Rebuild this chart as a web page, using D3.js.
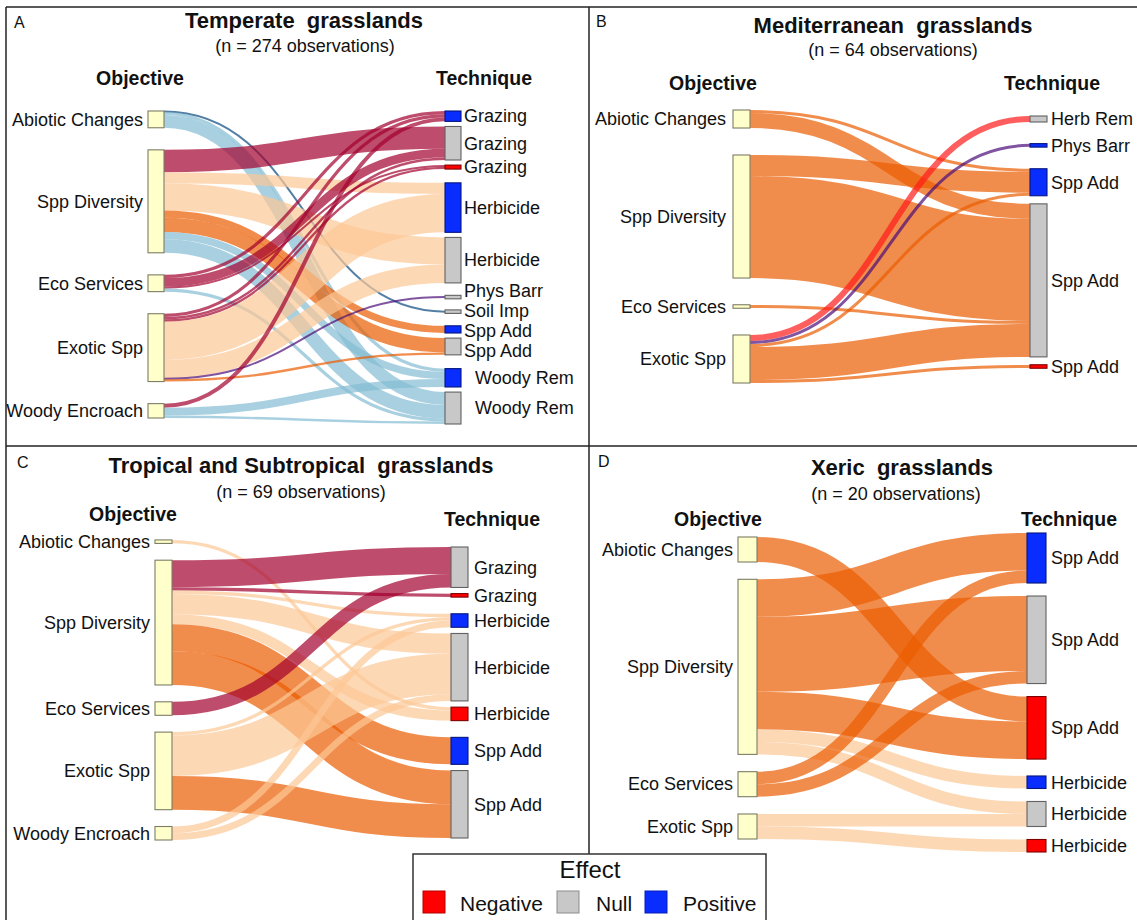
<!DOCTYPE html>
<html>
<head>
<meta charset="utf-8">
<script src="https://cdn.jsdelivr.net/npm/d3@7"></script>
<style>
  body { margin: 0; background: #fff; }
  svg text { font-family: "Liberation Sans", Arial, Helvetica, sans-serif; white-space: pre; }
</style>
</head>
<body>
<svg id="fig" width="1137" height="920"></svg>
<script>
// ---------- Data: objectives (left), technique x effect (right), flows ----------
const effects = ["Negative", "Null", "Positive"];

const temperateObjectives = ["Abiotic Changes", "Spp Diversity", "Eco Services", "Exotic Spp", "Woody Encroach"];
const temperateTechniques = [
  ["Grazing", "Positive"], ["Grazing", "Null"], ["Grazing", "Negative"],
  ["Herbicide", "Positive"], ["Herbicide", "Null"],
  ["Phys Barr", "Null"], ["Soil Imp", "Null"],
  ["Spp Add", "Positive"], ["Spp Add", "Null"],
  ["Woody Rem", "Positive"], ["Woody Rem", "Null"]
];
const temperateFlows = [
  ["Abiotic Changes", "Soil Imp", "Null", 1],
  ["Abiotic Changes", "Woody Rem", "Positive", 4],
  ["Abiotic Changes", "Woody Rem", "Null", 16],
  ["Spp Diversity", "Grazing", "Null", 28],
  ["Spp Diversity", "Herbicide", "Positive", 14],
  ["Spp Diversity", "Herbicide", "Null", 34],
  ["Spp Diversity", "Spp Add", "Positive", 9],
  ["Spp Diversity", "Spp Add", "Null", 18],
  ["Spp Diversity", "Woody Rem", "Positive", 9],
  ["Spp Diversity", "Woody Rem", "Null", 17],
  ["Eco Services", "Grazing", "Positive", 4],
  ["Eco Services", "Grazing", "Null", 11],
  ["Eco Services", "Grazing", "Negative", 2],
  ["Eco Services", "Woody Rem", "Null", 4],
  ["Exotic Spp", "Grazing", "Positive", 4],
  ["Exotic Spp", "Grazing", "Null", 3],
  ["Exotic Spp", "Grazing", "Negative", 3],
  ["Exotic Spp", "Herbicide", "Positive", 48],
  ["Exotic Spp", "Herbicide", "Null", 23],
  ["Exotic Spp", "Phys Barr", "Null", 1],
  ["Exotic Spp", "Spp Add", "Null", 3],
  ["Woody Encroach", "Grazing", "Positive", 5],
  ["Woody Encroach", "Woody Rem", "Positive", 10],
  ["Woody Encroach", "Woody Rem", "Null", 3]
];

const mediterraneanObjectives = ["Abiotic Changes", "Spp Diversity", "Eco Services", "Exotic Spp"];
const mediterraneanTechniques = [
  ["Herb Rem", "Null"], ["Phys Barr", "Positive"],
  ["Spp Add", "Positive"], ["Spp Add", "Null"], ["Spp Add", "Negative"]
];
const mediterraneanFlows = [
  ["Abiotic Changes", "Spp Add", "Positive", 1],
  ["Abiotic Changes", "Spp Add", "Null", 5],
  ["Spp Diversity", "Spp Add", "Positive", 7],
  ["Spp Diversity", "Spp Add", "Null", 34],
  ["Eco Services", "Spp Add", "Null", 1],
  ["Exotic Spp", "Herb Rem", "Null", 2],
  ["Exotic Spp", "Phys Barr", "Positive", 1],
  ["Exotic Spp", "Spp Add", "Positive", 1],
  ["Exotic Spp", "Spp Add", "Null", 11],
  ["Exotic Spp", "Spp Add", "Negative", 1]
];

const tropicalObjectives = ["Abiotic Changes", "Spp Diversity", "Eco Services", "Exotic Spp", "Woody Encroach"];
const tropicalTechniques = [
  ["Grazing", "Null"], ["Grazing", "Negative"],
  ["Herbicide", "Positive"], ["Herbicide", "Null"], ["Herbicide", "Negative"],
  ["Spp Add", "Positive"], ["Spp Add", "Null"]
];
const tropicalFlows = [
  ["Abiotic Changes", "Herbicide", "Negative", 1],
  ["Spp Diversity", "Grazing", "Null", 8],
  ["Spp Diversity", "Grazing", "Negative", 1],
  ["Spp Diversity", "Herbicide", "Positive", 1],
  ["Spp Diversity", "Herbicide", "Null", 6],
  ["Spp Diversity", "Herbicide", "Negative", 3],
  ["Spp Diversity", "Spp Add", "Positive", 8],
  ["Spp Diversity", "Spp Add", "Null", 10],
  ["Eco Services", "Grazing", "Null", 4],
  ["Exotic Spp", "Herbicide", "Positive", 1],
  ["Exotic Spp", "Herbicide", "Null", 12],
  ["Exotic Spp", "Spp Add", "Null", 10],
  ["Woody Encroach", "Herbicide", "Positive", 2],
  ["Woody Encroach", "Herbicide", "Null", 2]
];

const xericObjectives = ["Abiotic Changes", "Spp Diversity", "Eco Services", "Exotic Spp"];
const xericTechniques = [
  ["Spp Add", "Positive"], ["Spp Add", "Null"], ["Spp Add", "Negative"],
  ["Herbicide", "Positive"], ["Herbicide", "Null"], ["Herbicide", "Negative"]
];
const xericFlows = [
  ["Abiotic Changes", "Spp Add", "Negative", 2],
  ["Spp Diversity", "Spp Add", "Positive", 3],
  ["Spp Diversity", "Spp Add", "Null", 6],
  ["Spp Diversity", "Spp Add", "Negative", 3],
  ["Spp Diversity", "Herbicide", "Positive", 1],
  ["Spp Diversity", "Herbicide", "Null", 1],
  ["Eco Services", "Spp Add", "Positive", 1],
  ["Eco Services", "Spp Add", "Null", 1],
  ["Exotic Spp", "Herbicide", "Null", 1],
  ["Exotic Spp", "Herbicide", "Negative", 1]
];

const panelLetters = ["A", "B", "C", "D"];
const panelTitles = ["Temperate  grasslands", "Mediterranean  grasslands",
                     "Tropical and Subtropical  grasslands", "Xeric  grasslands"];

// ---------- Styles ----------
const objectiveFill = "#ffffcc";
const effectFill = { Negative: "#ff0000", Null: "#c8c8c8", Positive: "#0a2dff" };
const techniqueColor = {
  "Grazing": "#a3002d", "Herbicide": "#fcc795", "Spp Add": "#eb5c00",
  "Woody Rem": "#83bcd3", "Soil Imp": "#0a477e", "Phys Barr": "#4a0c78", "Herb Rem": "#ff1a1a"
};
const linkOpacity = 0.7;
const labelSize = 18;
const labelMinSep = 20;

// ---------- Panel geometry ----------
// pad: gap between nodes of the same technique; groupRatio: how much wider the
// gap is between two different techniques (or two objectives).
const panels = [
  { objectives: temperateObjectives, techniques: temperateTechniques, flows: temperateFlows,
    xLeft: 148, xRight: 445, nodeW: 16, leftExt: [111, 418], rightExt: [111, 424], pad: 5.1, groupRatio: 2.7,
    gapL: 5, gapR: 3, indent: { "Woody Rem": 11 },
    letter: [14, 28], title: [304, 28], sub: [305, 52], obj: [140, 85], tech: [484, 85] },
  { objectives: mediterraneanObjectives, techniques: mediterraneanTechniques, flows: mediterraneanFlows,
    xLeft: 733, xRight: 1030, nodeW: 17, leftExt: [110, 383], rightExt: [116, 368], pad: 8.1, groupRatio: 2.7,
    gapL: 7, gapR: 4, indent: {},
    letter: [596, 27], title: [893, 33], sub: [893, 56], obj: [713, 90], tech: [1052, 90] },
  { objectives: tropicalObjectives, techniques: tropicalTechniques, flows: tropicalFlows,
    xLeft: 155, xRight: 451, nodeW: 17, leftExt: [540, 840], rightExt: [547, 838], pad: 6.2, groupRatio: 2.7,
    gapL: 5, gapR: 6, indent: {},
    letter: [17, 468], title: [301, 473], sub: [301, 498], obj: [133, 521], tech: [492, 526] },
  { objectives: xericObjectives, techniques: xericTechniques, flows: xericFlows,
    xLeft: 738, xRight: 1027, nodeW: 19, leftExt: [537, 839], rightExt: [533, 852], pad: 13, groupRatio: 1.3,
    gapL: 5, gapR: 5, indent: {},
    letter: [598, 467], title: [902, 475], sub: [896, 500], obj: [718, 526], tech: [1069, 526] }
];

const svg = d3.select("#fig");
svg.append("rect").attr("width", 1137).attr("height", 920).attr("fill", "#fff");

// ---------- Two-column flow layout ----------
function layout(p) {
  const left = p.objectives.map(name => ({ id: name, group: name, label: name, fill: objectiveFill, out: [], inn: [] }));
  const right = p.techniques.map(([t, e]) => ({ id: t + "|" + e, group: t, label: t, fill: effectFill[e], out: [], inn: [] }));
  const byId = new Map([...left, ...right].map(n => [n.id, n]));
  const links = p.flows.map(([s, t, e, v]) => {
    const l = { source: byId.get(s), target: byId.get(t + "|" + e), tech: t, value: v };
    l.source.out.push(l);
    l.target.inn.push(l);
    return l;
  });
  const nodes = [...left, ...right];
  nodes.forEach(n => n.value = Math.max(d3.sum(n.out, l => l.value), d3.sum(n.inn, l => l.value)));

  const cols = [left, right];
  const ext = [p.leftExt, p.rightExt];
  // relative width of each gap in a column
  const gapWeights = cols.map(c => c.slice(1).map((n, i) => n.group === c[i].group ? 1 : p.groupRatio));
  const ky = d3.min(cols, (c, i) =>
    (ext[i][1] - ext[i][0] - p.pad * d3.sum(gapWeights[i])) / d3.sum(c, n => n.value));
  const h = d3.scaleLinear().domain([0, 1]).range([0, ky]);
  const x = d3.scaleLinear().domain([0, 1]).range([p.xLeft, p.xRight]);

  cols.forEach((c, i) => {
    const slack = ext[i][1] - ext[i][0] - d3.sum(c, n => h(n.value));
    const unit = slack / d3.sum(gapWeights[i]);
    let y = ext[i][0];
    c.forEach((n, j) => {
      if (j > 0) y += unit * gapWeights[i][j - 1];
      n.col = i;
      n.x0 = x(i); n.x1 = x(i) + p.nodeW;
      n.y0 = y; n.y1 = y + h(n.value);
      n.ly = (n.y0 + n.y1) / 2;
      y = n.y1;
    });
    spreadLabels(c);
  });

  links.forEach(l => l.width = h(l.value));
  nodes.forEach(n => {
    n.out.sort((a, b) => a.target.y0 - b.target.y0);
    n.inn.sort((a, b) => a.source.y0 - b.source.y0);
    let sy = n.y0;
    n.out.forEach(l => { l.ys = sy + l.width / 2; sy += l.width; });
    let ty = n.y0;
    n.inn.forEach(l => { l.yt = ty + l.width / 2; ty += l.width; });
  });
  return { nodes, links, total: d3.sum(left, n => n.value) };
}

// Nudge labels of crowded small nodes apart so they stay legible.
function spreadLabels(col) {
  for (let it = 0; it < 200; it++) {
    let moved = false;
    for (let i = 1; i < col.length; i++) {
      const d = col[i].ly - col[i - 1].ly;
      if (d < labelMinSep - 0.01) {
        const m = (labelMinSep - d) / 2;
        col[i - 1].ly -= m;
        col[i].ly += m;
        moved = true;
      }
    }
    if (!moved) break;
  }
}

const linkPath = d3.linkHorizontal()
  .source(l => [l.source.x1, l.ys])
  .target(l => [l.target.x0, l.yt]);

panels.forEach((p, pi) => {
  const { nodes, links, total } = layout(p);
  const g = svg.append("g");

  g.append("g").selectAll("path").data(links).join("path")
    .attr("d", linkPath)
    .attr("fill", "none")
    .attr("stroke", l => techniqueColor[l.tech])
    .attr("stroke-opacity", linkOpacity)
    .attr("stroke-width", l => Math.max(2, l.width));

  const node = g.append("g").selectAll("g").data(nodes).join("g");
  node.append("rect")
    .attr("x", n => n.x0)
    .attr("y", n => Math.min(n.y0, (n.y0 + n.y1) / 2 - 1.75))
    .attr("width", p.nodeW)
    .attr("height", n => Math.max(3.5, n.y1 - n.y0))
    .attr("fill", n => n.fill)
    .attr("stroke", n => d3.rgb(n.fill).darker(2))
    .attr("stroke-width", 1.1);
  node.append("text")
    .attr("x", n => n.col === 0 ? n.x0 - p.gapL : n.x1 + p.gapR + (p.indent[n.label] || 0))
    .attr("y", n => n.ly)
    .attr("dy", "0.35em")
    .attr("text-anchor", n => n.col === 0 ? "end" : "start")
    .attr("font-size", labelSize)
    .attr("fill", "#111")
    .text(n => n.label);

  g.append("text").attr("x", p.letter[0]).attr("y", p.letter[1])
    .attr("font-size", 16).attr("fill", "#111").text(panelLetters[pi]);
  g.append("text").attr("x", p.title[0]).attr("y", p.title[1]).attr("text-anchor", "middle")
    .attr("font-size", 22).attr("font-weight", "bold").attr("fill", "#111").text(panelTitles[pi]);
  g.append("text").attr("x", p.sub[0]).attr("y", p.sub[1]).attr("text-anchor", "middle")
    .attr("font-size", 18).attr("fill", "#111").text(`(n = ${total} observations)`);
  g.append("text").attr("x", p.obj[0]).attr("y", p.obj[1]).attr("text-anchor", "middle")
    .attr("font-size", 19.5).attr("font-weight", "bold").attr("fill", "#111").text("Objective");
  g.append("text").attr("x", p.tech[0]).attr("y", p.tech[1]).attr("text-anchor", "middle")
    .attr("font-size", 19.5).attr("font-weight", "bold").attr("fill", "#111").text("Technique");
});

// ---------- Panel frame ----------
const frame = svg.append("g").attr("stroke", "#222").attr("stroke-width", 1.5);
frame.append("line").attr("x1", 6).attr("y1", 7).attr("x2", 1137).attr("y2", 7);
frame.append("line").attr("x1", 6).attr("y1", 7).attr("x2", 6).attr("y2", 920);
frame.append("line").attr("x1", 6).attr("y1", 446).attr("x2", 1137).attr("y2", 446);
frame.append("line").attr("x1", 589).attr("y1", 7).attr("x2", 589).attr("y2", 920);

// ---------- Legend ----------
const legend = svg.append("g");
legend.append("rect").attr("x", 413).attr("y", 854).attr("width", 353).attr("height", 80)
  .attr("fill", "#fff").attr("stroke", "#333").attr("stroke-width", 1.5);
legend.append("text").attr("x", 590).attr("y", 878).attr("text-anchor", "middle")
  .attr("font-size", 24).attr("fill", "#111").text("Effect");
const legendX = d3.scaleOrdinal().domain(effects).range([423, 557, 645]);
const legendLabelX = d3.scaleOrdinal().domain(effects).range([460, 596, 683]);
effects.forEach(e => {
  legend.append("rect").attr("x", legendX(e)).attr("y", 891).attr("width", 22).attr("height", 22)
    .attr("fill", effectFill[e]).attr("stroke", d3.rgb(effectFill[e]).darker(1)).attr("stroke-width", 1);
  legend.append("text").attr("x", legendLabelX(e)).attr("y", 911)
    .attr("font-size", 21).attr("fill", "#111").text(e);
});
</script>
</body>
</html>
